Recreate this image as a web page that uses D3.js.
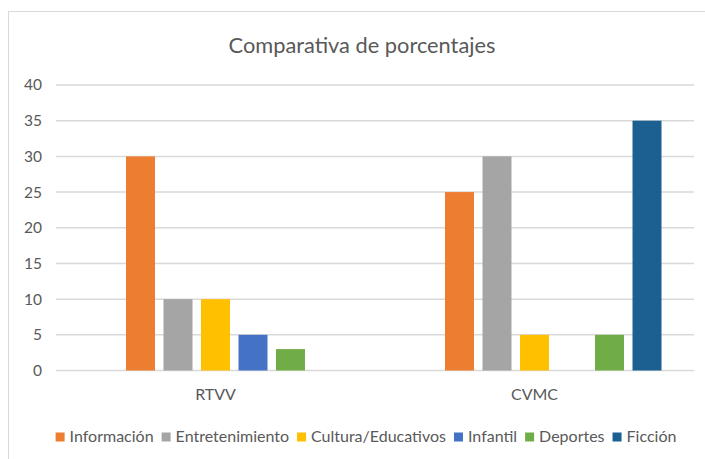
<!DOCTYPE html>
<html>
<head>
<meta charset="utf-8">
<script src="https://cdn.jsdelivr.net/npm/d3@7"></script>
<style>
  html, body { margin: 0; padding: 0; background: #fff; }
  svg { display: block; font-family: Lato, "Open Sans", sans-serif; }
</style>
</head>
<body>
<svg id="chart" width="705" height="459"></svg>
<script>
const groups = ["RTVV", "CVMC"];
const seriesNames = ["Información", "Entretenimiento", "Cultura/Educativos", "Infantil", "Deportes", "Ficción"];
const rtvvValues = [30, 10, 10, 5, 3, null];
const cvmcValues = [25, 30, 5, null, 5, 35];
const yTicks = [0, 5, 10, 15, 20, 25, 30, 35, 40];
const colors = ["#ED7D31", "#A5A5A5", "#FFC000", "#4472C4", "#70AD47", "#1C5F91"];
const title = "Comparativa de porcentajes";

const valuesByGroup = { RTVV: rtvvValues, CVMC: cvmcValues };

const svg = d3.select("#chart");

// chart frame
svg.append("rect")
  .attr("x", 8.5).attr("y", 11.5)
  .attr("width", 708).attr("height", 460)
  .attr("fill", "#fff")
  .attr("stroke", "#d9d9d9").attr("stroke-width", 1);

const plot = { left: 56, right: 694, top: 85, bottom: 370.5 };

const x0 = d3.scaleBand().domain(groups).range([plot.left, plot.right]).padding(0);
const x1 = d3.scaleBand().domain(d3.range(seriesNames.length))
  .range([70, 70 + 5 * 37.5 + 29]).paddingInner(0.227).paddingOuter(0);
const y = d3.scaleLinear().domain([0, 40]).range([plot.bottom, plot.top]);

// gridlines
svg.append("g").selectAll("line").data(yTicks).join("line")
  .attr("x1", plot.left).attr("x2", plot.right)
  .attr("y1", d => y(d)).attr("y2", d => y(d))
  .attr("stroke", "#d9d9d9").attr("stroke-width", 1.5);

// y axis labels
const yAxis = d3.axisLeft(y).tickValues(yTicks).tickSize(0).tickPadding(0);
const yg = svg.append("g").attr("transform", `translate(42,0)`).call(yAxis);
yg.select(".domain").remove();
yg.selectAll("text").attr("fill", "#595959").attr("font-size", 15.5)
  .attr("font-family", "Lato, sans-serif");

// bars
const gGroups = svg.append("g").selectAll("g").data(groups).join("g")
  .attr("transform", d => `translate(${x0(d)},0)`);
gGroups.selectAll("rect")
  .data(g => valuesByGroup[g].map((v, i) => ({ v, i })).filter(d => d.v != null))
  .join("rect")
  .attr("x", d => x1(d.i))
  .attr("width", x1.bandwidth())
  .attr("y", d => y(d.v))
  .attr("height", d => y(0) - y(d.v))
  .attr("fill", d => colors[d.i]);

// x axis labels
const xAxis = d3.axisBottom(x0).tickSize(0).tickPadding(0);
const xg = svg.append("g").attr("transform", `translate(0,${plot.bottom + 18})`).call(xAxis);
xg.select(".domain").remove();
xg.selectAll("text").attr("fill", "#595959").attr("font-size", 16)
  .attr("font-family", "Lato, sans-serif");

// title
svg.append("text")
  .attr("x", 362).attr("y", 53)
  .attr("text-anchor", "middle")
  .attr("fill", "#595959").attr("font-size", 21.8)
  .text(title);

// legend
const legend = svg.append("g");
const items = legend.selectAll("g").data(seriesNames).join("g");
items.append("rect").attr("width", 9).attr("height", 9).attr("y", -9.5)
  .attr("fill", (d, i) => colors[i]);
items.append("text").attr("x", 14).attr("y", 0)
  .attr("fill", "#595959").attr("font-size", 16)
  .text(d => d);
const widths = [];
items.each(function () {
  const w = 14 + d3.select(this).select("text").node().getComputedTextLength();
  widths.push(w);
});
const gap = 8;
const total = d3.sum(widths) + gap * (widths.length - 1);
let start = 366 - total / 2;
items.attr("transform", (d, i) => {
  const tx = start; start += widths[i] + gap;
  return `translate(${tx},442)`;
});
</script>
</body>
</html>
